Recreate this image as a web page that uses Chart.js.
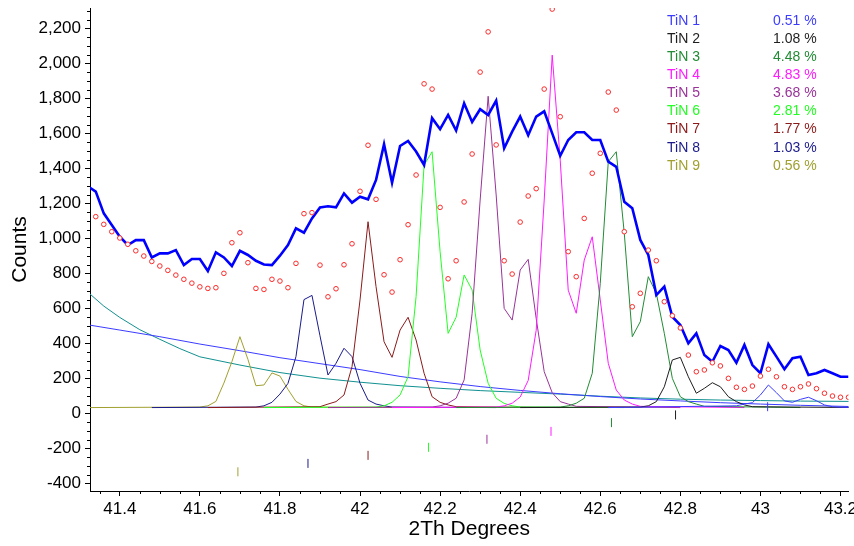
<!DOCTYPE html>
<html><head><meta charset="utf-8">
<script src="https://cdn.jsdelivr.net/npm/chart.js@4/dist/chart.umd.min.js"></script>
<style>html,body{margin:0;padding:0;background:#fff;overflow:hidden}</style>
</head><body>
<canvas id="c" width="854" height="546"></canvas>
<script>
// ---- data ----
const twoTheta = [
41.32,41.34,41.36,41.38,41.40,41.42,41.44,41.46,41.48,41.50,
41.52,41.54,41.56,41.58,41.60,41.62,41.64,41.66,41.68,41.70,
41.72,41.74,41.76,41.78,41.80,41.82,41.84,41.86,41.88,41.90,
41.92,41.94,41.96,41.98,42.00,42.02,42.04,42.06,42.08,42.10,
42.12,42.14,42.16,42.18,42.20,42.22,42.24,42.26,42.28,42.30,
42.32,42.34,42.36,42.38,42.40,42.42,42.44,42.46,42.48,42.50,
42.52,42.54,42.56,42.58,42.60,42.62,42.64,42.66,42.68,42.70,
42.72,42.74,42.76,42.78,42.80,42.82,42.84,42.86,42.88,42.90,
42.92,42.94,42.96,42.98,43.00,43.02,43.04,43.06,43.08,43.10,
43.12,43.14,43.16,43.18,43.20,43.22];
const calcCounts = [
1300,1269,1145,1078,1011,964,992,992,893,916,
916,935,849,884,884,815,922,893,844,931,
907,874,853,849,903,964,1059,1034,1116,1179,
1185,1179,1259,1206,1240,1225,1336,1540,1320,1530,
1559,1498,1421,1689,1626,1707,1618,1774,1667,1740,
1707,1789,1517,1612,1698,1591,1698,1728,1602,1474,
1564,1608,1608,1564,1564,1440,1411,1211,1174,993,
907,678,726,554,507,402,459,335,297,387,
364,291,393,278,231,397,326,254,317,326,
221,231,250,231,211,211];
const obsCounts = [
null,1126,1082,1040,1004,968,931,901,870,844,
819,792,768,746,725,716,720,802,977,1034,
863,716,710,768,758,720,859,1143,1149,849,
668,714,851,971,1271,1534,1225,794,695,880,
1080,1364,1885,1855,1179,771,874,1210,1484,1952,
2182,1536,874,798,1095,1244,1286,1855,2312,1697,
926,783,1116,1374,1488,1838,1735,1040,611,688,
935,874,640,560,490,335,240,250,291,273,
202,151,139,158,215,254,211,154,139,154,
170,143,117,101,94,94];
const bgLinear = [[41.32,508],[41.40,478],[41.50,440],[41.60,398],[41.70,360],[41.80,320],[41.90,286],[42.00,252],[42.10,213],[42.20,182],[42.30,155],[42.40,133],[42.50,114],[42.60,98],[42.70,84],[42.80,73],[42.90,63],[43.00,55],[43.10,48],[43.24,40]];
const bgCurve = [[41.32,695],[41.36,615],[41.40,550],[41.45,480],[41.50,425],[41.55,372],[41.60,325],[41.70,278],[41.80,235],[41.90,203],[42.00,180],[42.10,160],[42.20,145],[42.30,132],[42.40,122],[42.50,112],[42.60,100],[42.70,90],[42.80,83],[42.90,78],[43.00,75],[43.10,72],[43.24,70]];
const tin1 = [[42.62,35],[42.94,45],[42.96,55],[42.98,63],[43.00,107],[43.02,164],[43.04,120],[43.06,73],[43.08,65],[43.10,82],[43.12,94],[43.14,74],[43.16,50],[43.18,40],[43.20,37],[43.24,35]];
const tin2 = [[42.40,35],[42.70,38],[42.72,45],[42.74,69],[42.76,154],[42.78,307],[42.80,322],[42.82,211],[42.84,117],[42.86,145],[42.88,177],[42.90,154],[42.92,97],[42.94,69],[42.96,50],[42.98,40],[43.24,35]];
const tin3 = [[42.24,35],[42.50,38],[42.52,45],[42.54,60],[42.56,88],[42.58,231],[42.60,745],[42.62,1440],[42.64,1497],[42.66,1031],[42.68,440],[42.70,526],[42.72,783],[42.74,688],[42.76,459],[42.78,202],[42.80,97],[42.82,69],[42.84,55],[42.86,42],[43.10,35]];
const tin4 = [[42.08,35],[42.34,38],[42.36,45],[42.38,60],[42.40,95],[42.42,190],[42.44,477],[42.46,1221],[42.48,2049],[42.50,1449],[42.52,706],[42.54,574],[42.56,878],[42.58,1011],[42.60,650],[42.62,288],[42.64,135],[42.66,78],[42.68,55],[42.70,42],[42.96,35]];
const tin5 = [[41.92,35],[42.18,38],[42.20,45],[42.22,60],[42.24,88],[42.26,193],[42.28,574],[42.30,1221],[42.32,1814],[42.34,1250],[42.36,602],[42.38,535],[42.40,821],[42.42,882],[42.44,544],[42.46,240],[42.48,120],[42.50,69],[42.52,55],[42.54,42],[42.80,35]];
const tin6 = [[41.76,35],[42.04,38],[42.06,45],[42.08,65],[42.10,107],[42.12,211],[42.14,669],[42.16,1421],[42.18,1497],[42.20,926],[42.22,459],[42.24,551],[42.26,793],[42.28,707],[42.30,364],[42.32,174],[42.34,88],[42.36,59],[42.38,45],[42.40,38],[42.66,35]];
const tin7 = [[41.62,35],[41.90,40],[41.92,55],[41.94,69],[41.96,107],[41.98,269],[42.00,650],[42.02,1097],[42.04,726],[42.06,411],[42.08,322],[42.10,478],[42.12,551],[42.14,421],[42.16,231],[42.18,97],[42.20,65],[42.22,50],[42.24,40],[42.50,35]];
const tin8 = [[41.48,35],[41.74,38],[41.76,45],[41.78,65],[41.80,112],[41.82,173],[41.84,326],[41.86,652],[41.88,676],[41.90,445],[41.92,221],[41.94,288],[41.96,374],[41.98,326],[42.00,174],[42.02,78],[42.04,55],[42.06,45],[42.08,38],[42.34,35]];
const tin9 = [[41.32,35],[41.60,38],[41.62,45],[41.64,70],[41.66,175],[41.68,297],[41.70,440],[41.72,311],[41.74,160],[41.76,164],[41.78,233],[41.80,215],[41.82,139],[41.84,70],[41.86,45],[41.88,38],[42.20,35]];
const phaseNames = ['TiN 1','TiN 2','TiN 3','TiN 4','TiN 5','TiN 6','TiN 7','TiN 8','TiN 9'];
const phasePercent = ['0.51 %','1.08 %','4.48 %','4.83 %','3.68 %','2.81 %','1.77 %','1.03 %','0.56 %'];
const peakMarkPos = [43.018,42.788,42.628,42.477,42.317,42.171,42.020,41.870,41.695];
const peakMarkLevel = [40,-7,-51,-101,-146,-192,-238,-284,-332];
const xTicks = [41.4,41.6,41.8,42,42.2,42.4,42.6,42.8,43,43.2];
const yTicks = [-400,-200,0,200,400,600,800,1000,1200,1400,1600,1800,2000,2200];

// ---- styling ----
const phaseColors = ['#3c3cff','#1e1e1e','#228b34','#ff1aff','#993399','#22ff22','#8b1a1a','#1a1a8b','#a0a030'];
const FONT = "'Liberation Sans', Arial, sans-serif";
const pairs = a => a.map(p => ({x:p[0], y:p[1]}));
const tinData = [tin1,tin2,tin3,tin4,tin5,tin6,tin7,tin8,tin9];

const datasets = [];
datasets.push({label:'observed', data: twoTheta.map((t,i)=>({x:t,y:obsCounts[i]})), showLine:false,
  pointStyle:'circle', pointRadius:2.3, pointBorderWidth:1, pointBorderColor:'#ff2a2a', pointBackgroundColor:'#ffffff'});
datasets.push({label:'markers', data: peakMarkPos.map((t,i)=>({x:t,y:peakMarkLevel[i]})), showLine:false,
  pointStyle:'line', pointRotation:90, pointRadius:4.5, pointBorderWidth:1,
  pointBorderColor: phaseColors, pointBackgroundColor: phaseColors});
datasets.push({label:'calc', data: twoTheta.map((t,i)=>({x:t,y:calcCounts[i]})), borderColor:'#0000ff', borderWidth:2.6, pointRadius:0});
tinData.forEach((d,i)=>datasets.push({label:phaseNames[i], data:pairs(d), borderColor:phaseColors[i], borderWidth:1, pointRadius:0}));
datasets.push({label:'bg1', data:pairs(bgLinear), borderColor:'#3c3cff', borderWidth:1, pointRadius:0});
datasets.push({label:'bg2', data:pairs(bgCurve), borderColor:'#129090', borderWidth:1, pointRadius:0});

const minorTicks = {
  id:'minorTicks',
  afterDraw(chart){
    const {ctx, chartArea:a, scales:{x,y}} = chart;
    ctx.save(); ctx.strokeStyle='#000'; ctx.lineWidth=1; ctx.beginPath();
    for (let k=827; k<=865; k++) { if (k%4===0) continue; const v=k*0.05;
      const px=Math.round(x.getPixelForValue(v))+0.5; if (px<a.left||px>a.right) continue;
      ctx.moveTo(px,a.bottom); ctx.lineTo(px,a.bottom+3); }
    for (let k=-8; k<=46; k++) { if (k%4===0) continue; const v=k*50;
      const py=Math.round(y.getPixelForValue(v))+0.5; if (py<a.top||py>a.bottom) continue;
      ctx.moveTo(a.left,py); ctx.lineTo(a.left-3,py); }
    ctx.stroke(); ctx.restore();
  }
};
const phaseLegend = {
  id:'phaseLegend',
  afterDraw(chart){
    const ctx=chart.ctx; ctx.save(); ctx.font='14px '+FONT; ctx.textBaseline='middle'; ctx.textAlign='left';
    phaseNames.forEach((n,i)=>{ const yy=21+18.1*i; ctx.fillStyle=phaseColors[i];
      ctx.fillText(n,667,yy); ctx.fillText(phasePercent[i],773,yy); });
    ctx.restore();
  }
};

new Chart(document.getElementById('c'), {
  type:'line',
  data:{datasets},
  options:{
    responsive:false, animation:false, devicePixelRatio:1,
    layout:{padding:{top:8,left:0,right:0,bottom:0}},
    plugins:{legend:{display:false}, tooltip:{enabled:false}},
    elements:{line:{tension:0}},
    scales:{
      x:{type:'linear', min:41.3256, max:43.2200,
        afterBuildTicks:s=>{s.ticks=xTicks.map(v=>({value:v}));},
        afterFit:s=>{s.height=55; s.paddingLeft=0; s.paddingRight=0;},
        ticks:{color:'#000', font:{family:FONT,size:17}, padding:3, maxRotation:0, autoSkip:false, callback:v=>String(v)},
        grid:{drawOnChartArea:false, drawTicks:true, tickLength:5, color:'#000'},
        border:{display:true, color:'#000', width:1},
        title:{display:true, text:'2Th Degrees', color:'#000', font:{family:FONT,size:21}, padding:{top:0,bottom:4}}
      },
      y:{type:'linear', min:-441.7, max:2318.3,
        afterBuildTicks:s=>{s.ticks=yTicks.map(v=>({value:v}));},
        afterFit:s=>{s.width=90; s.paddingTop=0; s.paddingBottom=0;},
        ticks:{color:'#000', font:{family:FONT,size:17}, padding:4, autoSkip:false, callback:v=>v.toLocaleString('en-US')},
        grid:{drawOnChartArea:false, drawTicks:true, tickLength:5, color:'#000'},
        border:{display:true, color:'#000', width:1},
        title:{display:true, text:'Counts', color:'#000', font:{family:FONT,size:21}, padding:{top:8,bottom:0}}
      }
    }
  },
  plugins:[minorTicks, phaseLegend]
});
</script>
</body></html>
